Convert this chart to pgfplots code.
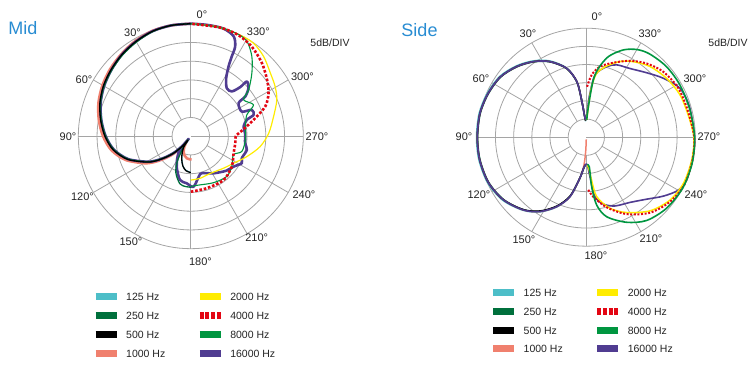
\documentclass[border=0pt]{standalone}
\usepackage{pgfplots}
\pgfplotsset{compat=1.18}
\usepgfplotslibrary{polar}
\usepackage{pgfplotstable}
\usepackage{fontspec}
\setmainfont{Liberation Sans}

\definecolor{c125}{RGB}{77,190,200}
\definecolor{c250}{RGB}{0,112,60}
\definecolor{c500}{RGB}{0,0,0}
\definecolor{c1000}{RGB}{240,128,110}
\definecolor{c2000}{RGB}{255,236,0}
\definecolor{c4000}{RGB}{227,6,19}
\definecolor{c8000}{RGB}{0,150,64}
\definecolor{c16000}{RGB}{80,60,145}
\definecolor{titleblue}{RGB}{40,140,210}
\definecolor{gridgray}{RGB}{165,165,165}
\definecolor{txtgray}{RGB}{35,35,35}

% ---------------- Mid ----------------
\pgfplotstableread{
a r
0 30
10 30
20 29.8
30 29.2
40 28.5
50 27.7
60 26.9
70 25.8
80 24.4
90 22.9
100 21.0
110 18.0
120 13.8
125 11.5
130 8.8
135 6.3
140 3.5
143 1.3
146 3.0
152 4.6
158 6.4
165 8.2
172 9.2
180 9.7
}\MidOneTwoFive
\pgfplotstableread{
a r
0 30
10 30
20 29.7
30 29.0
40 28.3
50 27.5
60 26.7
70 25.6
80 24.2
90 22.7
100 20.8
110 17.8
120 13.6
125 11.3
130 8.6
135 6.1
140 3.3
143 1.2
147 4.0
152 7.8
158 10.6
167 13.0
174 13.5
180 13.6
}\MidTwoFifty
\pgfplotstableread{
a r
0 30
10 30
20 29.8
30 29.2
40 28.5
50 27.7
60 26.9
70 25.8
80 24.4
90 22.9
100 21.0
110 18.0
120 13.8
125 11.5
130 8.8
135 6.3
140 3.5
143 1.3
146 3.2
152 4.8
158 6.5
165 8.2
172 9.3
180 9.7
}\MidFiveHundred
\pgfplotstableread{
a r
0 30
10 30
20 29.9
30 29.4
40 28.7
50 28.0
60 27.2
70 26.2
80 24.9
90 23.4
100 21.5
110 18.5
120 14.4
125 12.1
130 9.4
135 6.8
140 4.0
143 2.0
148 3.2
155 4.5
162 5.4
170 6.0
178 6.2
182 6.2
}\MidThousand
\pgfplotstableread{
a r
180 11.7
192.5 11.5
207.6 11.2
225.6 12.2
237.7 13.5
250 15.9
261.5 18.7
272.2 20.8
283.4 22.7
292.9 24.9
300.5 26.1
308.5 27.1
317.6 28.8
326 29.9
334.4 30
346.7 30
360 30
}\MidTwoK
\pgfplotstableread{
a r
180 14.8
197.1 14.5
216.8 14.6
233.5 13.6
248.3 12.3
262 12.0
270 12.0
277 14.0
284.6 17.3
291.8 21.4
299 23.7
306.5 25.3
315.8 27.2
325.8 28.9
335 29.8
345 30
360 30
}\MidFourK
\pgfplotstableread{
a r
180 13.4
189 13.2
206.1 13.8
221.8 14.4
233.5 13.6
246.4 12.4
253.3 14.2
266 14.6
280.1 14.8
290.9 16.0
296.6 18.7
304.6 17.1
308.8 19.8
315.9 23.4
322.6 26.8
329.4 29.4
336 30
346.7 30
360 30
}\MidEightK
\pgfplotstableread{
a r
0 30
10 30
20 29.8
30 29.2
40 28.5
50 27.6
60 26.7
70 25.6
80 24.2
90 22.7
100 20.8
110 17.8
120 13.6
125 11.3
130 8.6
135 6.0
139 3.3
141 0.9
142.5 2.4
144 5.6
155 8.9
166 12.0
175 12.6
183 13.5
191.5 10.9
196.6 10.3
211.5 11.6
225.8 13.2
234.6 14.0
242.1 15.4
246.7 14.8
256.3 15.4
262.7 14.6
273 14.5
280.4 14.3
286.3 15.6
288.8 17.7
293.4 17.7
295.8 15.1
304.7 15.5
306.1 18.0
309.8 20.0
314.3 20.9
314.8 18.6
317.5 16.2
323.1 16.0
328.6 18.1
331.6 21.2
332.8 23.9
333.7 26.7
336.8 29.0
343.2 30
351.8 30
360 30
}\MidSixteenK

% ---------------- Side ----------------
\pgfplotstableread{
a r
2 4.4
4 5.3
7.2 10.2
9.6 15.4
15.9 19.8
25.7 23.3
35 25.6
44.6 27.5
55 29.1
66.2 29.8
77.5 30.2
90 30.2
102 30.2
114.8 29.9
127 28.8
139.1 26.6
148.1 24.2
156.9 20.9
164.6 17.0
170.9 11.5
175 8.6
178 7.6
}\SideOneTwoFive
\pgfplotstableread{
a r
2 4.6
4 5.4
7.2 10.2
9.6 15.4
15.9 19.6
25.7 23.0
35 25.3
44.6 27.2
55 28.8
66.2 29.5
77.5 29.9
90 29.9
102 29.9
114.8 29.6
127 28.5
139.1 26.4
148.1 24.0
156.9 20.7
164.6 16.9
170.9 11.5
175 8.6
178 7.6
}\SideTwoFifty
\pgfplotstableread{
a r
2 4.6
4 5.4
7.2 10.3
9.6 15.5
15.9 19.7
25.7 23.1
35 25.4
44.6 27.3
55 28.9
66.2 29.6
77.5 30
90 30
102 30
114.8 29.7
127 28.6
139.1 26.4
148.1 23.9
156.9 20.6
164.6 16.8
170.9 11.5
175 8.6
178 7.6
}\SideFiveHundred
\pgfplotstableread{
a r
2 4.6
4 5.4
7.2 10.3
9.6 15.5
15.9 19.7
25.7 23.1
35 25.4
44.6 27.3
55 28.9
66.2 29.6
77.5 30
90 30
102 30
114.8 29.7
127 28.6
139.1 26.5
148.1 24.1
156.9 20.8
164.6 17.0
170.9 11.5
175 8.0
177.5 4.0
179 0.6
}\SideThousand
\pgfplotstableread{
a r
182 7.6
185 9.0
187 11.9
189.9 16.6
198.4 20.6
208.1 23.5
220.9 26.8
233 28.8
244.6 29.6
257.8 29.7
270 29.6
282.3 28.7
294.3 28.3
306.2 27.4
317.9 26.2
328 24.5
336 22.8
344 20.4
350.8 17.8
354 14.0
355.5 10.0
357.5 6.0
358.5 4.8
}\SideTwoK
\pgfplotstableread{
a r
182.2 14.5
186.7 16.5
196.2 20.1
207.7 23.9
220.2 27.2
232.4 29.1
244 30
257.9 29.9
270 29.7
284 28.9
298 28.7
310.4 27.8
320.8 26.2
330.3 24.2
340.1 21.8
349 19.8
355.1 17.2
359.4 13.7
}\SideFourK
\pgfplotstableread{
a r
182 7.6
185.8 8.2
186.2 13.7
188.7 18.9
194.4 22.6
205.3 25.9
215.9 28.3
228.5 29.5
242.2 30
256.2 30
270 29.8
284.7 29.5
299.1 29.5
311.3 29.4
322.6 28.8
329.8 27.9
337 26.1
344.7 23.0
350.1 19.2
353 15.9
354.8 11.2
357 7.0
358.5 4.8
}\SideEightK
\pgfplotstableread{
a r
0.5 5.0
4 5.4
7.2 10.3
9.6 15.5
15.9 19.7
25.7 23.1
35 25.4
44.6 27.3
55 28.9
66.2 29.6
77.5 30
90 30
102 30
114.8 29.7
127 28.6
139.1 26.5
148.1 24.1
156.9 20.8
164.6 17.0
170.9 11.5
175 8.6
178 7.6
182 7.6
185.3 10.9
188.3 16.5
194.3 19.0
202.6 20.5
213.8 21.6
224.2 23.8
232.6 26.7
240 29.2
246.9 30
259.6 29.8
270 29.8
286.5 29.6
297.5 29.1
307.4 26.7
316.9 24.3
327.6 22.4
337.2 21.6
343.9 20.2
352 17.3
355.8 11.2
358 6.5
359.5 5.0
}\SideSixteenK

\pgfplotsset{
  polstyle/.style={
    width=#1, height=#1, scale only axis, anchor=center,
    xmin=0, xmax=360, ymin=0, ymax=30,
    xtick=\empty, ytick={5,10,15,20,25}, yticklabels={,,,,},
    yticklabel style={text opacity=0},
    major tick length=0pt,
    ymajorgrids, grid style={gridgray, line width=0.8pt},
    axis line style={gridgray, line width=0.8pt},
    clip=false,
    legend columns=2,
    legend cell align=left,
    legend image code/.code={\draw[##1, line width=7pt, line cap=butt] (0pt,0pt) -- (21pt,0pt);},
  },
  legsty/.style 2 args={
    legend style={at={(#1,#2)}, anchor=north west, draw=none, fill=none,
      inner sep=0pt, row sep=10.8pt,
      font=\fontsize{10.5}{12}\selectfont,
      nodes={inner sep=0pt, text height=8pt, text depth=0pt, text=txtgray},
      /tikz/every odd column/.append style={column sep=6pt},
      /tikz/every even column/.append style={column sep=31pt}},
  },
  cv/.style={smooth, tension=0.5, line join=round},
}

\begin{document}
\begin{tikzpicture}
\path[use as bounding box] (0pt,0pt) rectangle (755pt,367pt);

% ================= Mid =================
\begin{polaraxis}[polstyle=225pt, at={(190.8pt,230.8pt)}, legsty={0.0608}{-0.1956}]
\pgfplotsinvokeforeach{0,30,...,330}{\draw[gridgray, line width=0.8pt] (axis cs:#1,5) -- (axis cs:#1,30);}
\addplot[forget plot, cv, c125, line width=1.3pt] table[x expr=\thisrow{a}+90, y=r] {\MidOneTwoFive};
\addplot[forget plot, cv, c1000, line width=2.6pt] table[x expr=\thisrow{a}+90, y=r] {\MidThousand};
\addplot[forget plot, cv, c16000, line width=2.6pt] table[x expr=\thisrow{a}+90, y=r] {\MidSixteenK};
\addplot[forget plot, cv, c250, line width=1.3pt] table[x expr=\thisrow{a}+90, y=r] {\MidTwoFifty};
\addplot[forget plot, cv, c500, line width=1.3pt] table[x expr=\thisrow{a}+90, y=r] {\MidFiveHundred};
\addplot[forget plot, cv, c2000, line width=1.2pt] table[x expr=\thisrow{a}+90, y=r] {\MidTwoK};
\addplot[forget plot, cv, c8000, line width=1.1pt] table[x expr=\thisrow{a}+90, y=r] {\MidEightK};
\addplot[forget plot, cv, c4000, line width=2.6pt, dash pattern=on 2.6pt off 1.8pt] table[x expr=\thisrow{a}+90, y=r] {\MidFourK};
\addlegendimage{c125}\addlegendentry{125 Hz}
\addlegendimage{c2000}\addlegendentry{2000 Hz}
\addlegendimage{c250}\addlegendentry{250 Hz}
\addlegendimage{c4000, dash pattern=on 4pt off 1.7pt}\addlegendentry{4000 Hz}
\addlegendimage{c500}\addlegendentry{500 Hz}
\addlegendimage{c8000}\addlegendentry{8000 Hz}
\addlegendimage{c1000}\addlegendentry{1000 Hz}
\addlegendimage{c16000}\addlegendentry{16000 Hz}
\end{polaraxis}

% ================= Side =================
\begin{polaraxis}[polstyle=218pt, at={(586.3pt,229.8pt)}, legsty={0.056}{-0.193}]
\pgfplotsinvokeforeach{0,30,...,330}{\draw[gridgray, line width=0.8pt] (axis cs:#1,5) -- (axis cs:#1,30);}
\addplot[forget plot, cv, c125, line width=1.6pt] table[x expr=\thisrow{a}+90, y=r] {\SideOneTwoFive};
\addplot[forget plot, cv, c250, line width=1.5pt] table[x expr=\thisrow{a}+90, y=r] {\SideTwoFifty};
\addplot[forget plot, cv, c1000, line width=1.5pt] table[x expr=\thisrow{a}+90, y=r] {\SideThousand};
\addplot[forget plot, cv, c500, line width=1.5pt] table[x expr=\thisrow{a}+90, y=r] {\SideFiveHundred};
\addplot[forget plot, cv, c16000, line width=1.6pt] table[x expr=\thisrow{a}+90, y=r] {\SideSixteenK};
\addplot[forget plot, cv, c2000, line width=1.5pt] table[x expr=\thisrow{a}+90, y=r] {\SideTwoK};
\addplot[forget plot, cv, c4000, line width=2.0pt, dash pattern=on 2pt off 1.6pt] table[x expr=\thisrow{a}+90, y=r] {\SideFourK};
\addplot[forget plot, cv, c8000, line width=1.6pt] table[x expr=\thisrow{a}+90, y=r] {\SideEightK};
\addlegendimage{c125}\addlegendentry{125 Hz}
\addlegendimage{c2000}\addlegendentry{2000 Hz}
\addlegendimage{c250}\addlegendentry{250 Hz}
\addlegendimage{c4000, dash pattern=on 4pt off 1.7pt}\addlegendentry{4000 Hz}
\addlegendimage{c500}\addlegendentry{500 Hz}
\addlegendimage{c8000}\addlegendentry{8000 Hz}
\addlegendimage{c1000}\addlegendentry{1000 Hz}
\addlegendimage{c16000}\addlegendentry{16000 Hz}
\end{polaraxis}

% titles and labels
\node[text=titleblue, font=\fontsize{18}{21}\selectfont, inner sep=0pt] at (23pt,339pt) {Mid};
\node[text=titleblue, font=\fontsize{18}{21}\selectfont, inner sep=0pt] at (419.5pt,337pt) {Side};
\begin{scope}[every node/.style={font=\fontsize{10.5}{12}\selectfont, inner sep=0pt, text=txtgray}]
\node at (330pt,324pt) {5dB/DIV};
\node at (728pt,324pt) {5dB/DIV};
\end{scope}
\begin{scope}[every node/.style={font=\fontsize{11}{13}\selectfont, inner sep=0pt, text=txtgray}]
\node at (202pt,352pt) {0°};
\node at (132.5pt,334pt) {30°};
\node at (84pt,287pt) {60°};
\node at (68pt,230pt) {90°};
\node at (82.5pt,170.3pt) {120°};
\node at (131pt,125.3pt) {150°};
\node at (200.5pt,105pt) {180°};
\node at (256.7pt,129pt) {210°};
\node at (304pt,172pt) {240°};
\node at (317pt,230pt) {270°};
\node at (302.5pt,290.3pt) {300°};
\node at (258.3pt,335.3pt) {330°};
\node at (597pt,350.3pt) {0°};
\node at (528pt,333.7pt) {30°};
\node at (481pt,288.7pt) {60°};
\node at (464pt,230.3pt) {90°};
\node at (479pt,172pt) {120°};
\node at (524pt,127pt) {150°};
\node at (596pt,111pt) {180°};
\node at (651pt,128.7pt) {210°};
\node at (696pt,172pt) {240°};
\node at (709pt,230.3pt) {270°};
\node at (695pt,288.7pt) {300°};
\node at (650pt,333.7pt) {330°};
\end{scope}
\end{tikzpicture}
\end{document}
